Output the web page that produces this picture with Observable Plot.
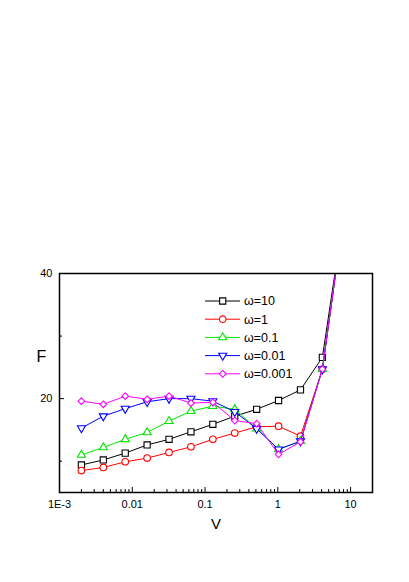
<!DOCTYPE html>
<html>
<head>
<meta charset="utf-8">
<script src="https://cdn.jsdelivr.net/npm/d3@7"></script>
<script src="https://cdn.jsdelivr.net/npm/@observablehq/plot@0.6"></script>
<style>
  html, body { margin: 0; padding: 0; background: #fff; }
  #wrap { position: relative; width: 409px; height: 582px; font-family: "Liberation Sans", Arial, sans-serif; }
  #legend { position: absolute; left: 0; top: 0; pointer-events: none; }
</style>
</head>
<body>
<div id="wrap"></div>
<script>
// ---- data ----
const V = [0.002, 0.004, 0.008, 0.016, 0.032, 0.064, 0.128, 0.256, 0.512, 1.024, 2.048, 4.096, 8.192];
const F_w10   = [9.4, 10.2, 11.3, 12.6, 13.5, 14.7, 15.9, 17.2, 18.3, 19.7, 21.4, 26.6, 50];
const F_w1    = [8.5, 9.0, 9.9, 10.5, 11.4, 12.3, 13.5, 14.5, 15.5, 15.6, 14.0, 24.7, 50];
const F_w01   = [11.0, 12.2, 13.5, 14.6, 16.4, 18.0, 18.8, 18.3, 15.2, 11.9, 13.2, 24.7, 50];
const F_w001  = [15.3, 17.2, 18.4, 19.5, 20.0, 20.0, 19.6, 17.9, 15.2, 11.9, 13.2, 24.7, 50];
const F_w0001 = [19.6, 19.1, 20.4, 19.9, 20.4, 19.3, 19.4, 16.5, 16.0, 11.1, 13.1, 24.7, 50];
const seriesNames = ["ω=10", "ω=1", "ω=0.1", "ω=0.01", "ω=0.001"];
const seriesValues = [F_w10, F_w1, F_w01, F_w001, F_w0001];
const seriesColors = ["#000000", "#ff0000", "#00e600", "#0000ff", "#ff00ff"];
const xTickValues = [0.001, 0.01, 0.1, 1, 10];
const xTickLabels = ["1E-3", "0.01", "0.1", "1", "10"];
const yTickValues = [20, 40];
const yMinorValues = [10, 30];

// ---- symbols ----
const sqrt3 = Math.sqrt(3);
const triangleDown = {
  draw(context, size) {
    const y = -Math.sqrt(size / (sqrt3 * 3));
    context.moveTo(0, -y * 2);
    context.lineTo(-sqrt3 * y, y);
    context.lineTo(sqrt3 * y, y);
    context.closePath();
  }
};
const seriesSymbols = ["square", "circle", "triangle", triangleDown, "diamond2"];
const seriesR = [3.5, 3.3, 3.0, 3.0, 3.0];

// ---- layout ----
const W = 409, H = 582;
const mL = 59, mR = 37, mT = 273, mB = 90;
const plotW = W - mL - mR, plotH = H - mT - mB;

const xMinor = [];
for (const dec of [0.001, 0.01, 0.1, 1, 10]) {
  for (let k = 2; k <= 9; k++) { const v = +(dec * k).toPrecision(3); if (v <= 20) xMinor.push(v); }
}

const rows = [];
seriesNames.forEach((name, i) => V.forEach((v, j) => rows.push({series: name, idx: i, V: v, F: seriesValues[i][j]})));

const marks = [];
seriesNames.forEach((name, i) => {
  const d = rows.filter(r => r.idx === i);
  marks.push(Plot.line(d, {x: "V", y: "F", stroke: seriesColors[i], strokeWidth: 1, clip: true}));
  marks.push(Plot.dot(d, {x: "V", y: "F", stroke: seriesColors[i], fill: "white", strokeWidth: 1.1,
    symbol: seriesSymbols[i], r: seriesR[i], clip: true}));
});

const chart = Plot.plot({
  width: W, height: H,
  marginLeft: mL, marginRight: mR, marginTop: mT, marginBottom: mB,
  style: {fontFamily: "'Liberation Sans', Arial, sans-serif", background: "white", color: "black"},
  x: {type: "log", domain: [0.001, 20]},
  y: {domain: [5, 40]},
  marks: [
    ...marks,
    Plot.tickX(xTickValues, {x: d => d, insetTop: plotH - 5, stroke: "black", strokeWidth: 1}),
    Plot.tickX(xMinor, {x: d => d, insetTop: plotH - 3, stroke: "black", strokeWidth: 1}),
    Plot.tickY(yTickValues, {y: d => d, insetRight: plotW - 5, stroke: "black", strokeWidth: 1}),
    Plot.tickY(yMinorValues, {y: d => d, insetRight: plotW - 3, stroke: "black", strokeWidth: 1}),
    Plot.axisX(xTickValues, {tickSize: 0, tickPadding: 8, fontSize: 11, label: null,
      tickFormat: (d, i) => xTickLabels[xTickValues.indexOf(d)]}),
    Plot.axisY(yTickValues, {tickSize: 0, tickPadding: 7, fontSize: 11, label: null}),
    Plot.text(["F"], {frameAnchor: "left", dx: -23, dy: -26, fontSize: 16}),
    Plot.text(["V"], {frameAnchor: "bottom", dy: 36, fontSize: 15}),
    Plot.frame({stroke: "black", strokeWidth: 1.5})
  ]
});
document.getElementById("wrap").appendChild(chart);

// ---- legend overlay ----
const leg = d3.select("#wrap").append("svg")
  .attr("id", "legend").attr("width", W).attr("height", H);
const legX0 = 205, legX1 = 240, legMarkX = 222.7, legTextX = 244, legY0 = 301, legDy = 18.2;
seriesNames.forEach((name, i) => {
  const y = legY0 + i * legDy;
  const g = leg.append("g");
  g.append("line").attr("x1", legX0).attr("x2", legX1).attr("y1", y).attr("y2", y)
    .attr("stroke", seriesColors[i]).attr("stroke-width", 1);
  const sym = seriesSymbols[i];
  const symType = typeof sym === "string"
    ? ({square: d3.symbolSquare, circle: d3.symbolCircle, triangle: d3.symbolTriangle, diamond2: d3.symbolDiamond2})[sym]
    : sym;
  g.append("path").attr("d", d3.symbol(symType, Math.PI * seriesR[i] * seriesR[i])())
    .attr("transform", `translate(${legMarkX},${y})`)
    .attr("fill", "white").attr("stroke", seriesColors[i]).attr("stroke-width", 1.1);
  g.append("text").attr("x", legTextX).attr("y", y).attr("dy", "0.35em")
    .attr("font-size", 12.5).attr("font-family", "'Liberation Sans', Arial, sans-serif")
    .attr("fill", "black").text(name);
});
</script>
</body>
</html>
